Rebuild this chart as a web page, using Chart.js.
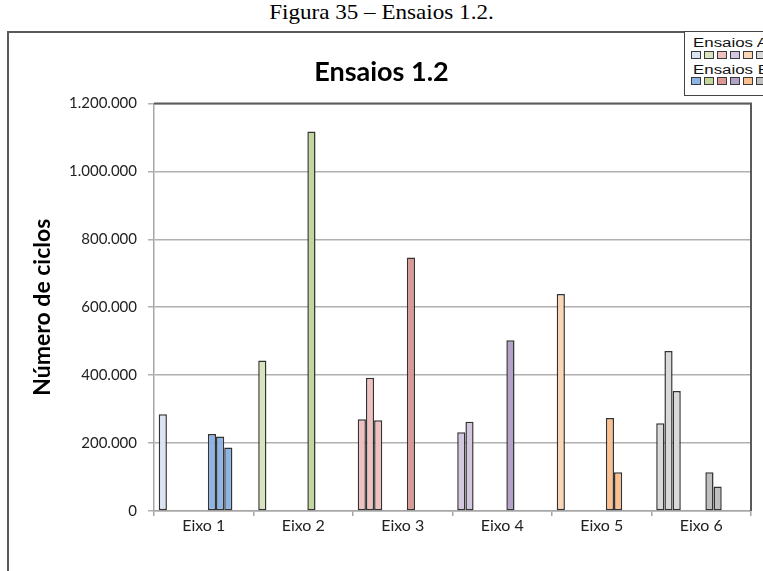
<!DOCTYPE html>
<html>
<head>
<meta charset="utf-8">
<title>Ensaios 1.2</title>
<script src="https://cdn.jsdelivr.net/npm/chart.js@4.4.1/dist/chart.umd.min.js"></script>
<style>
  html, body { margin: 0; padding: 0; background: #fff; overflow: hidden; }
  body { width: 763px; height: 571px; position: relative; }
  #legenda-figura {
    position: absolute; left: 0; top: 0; width: 763px; text-align: center;
    font-family: "Liberation Serif", "Times New Roman", serif; font-size: 21px; color: #000;
    line-height: 24px; transform: scaleX(1.1); transform-origin: 382px 0;
  }
  #moldura {
    position: absolute; left: 7px; top: 31px; width: 900px; height: 700px;
    border: 2px solid #5a5a5a; background: #fff;
  }
  #grafico { position: absolute; left: 0; top: 0; }
  #legenda {
    position: absolute; left: 684px; top: 31px; width: 120px; height: 63px;
    border: 1.5px solid #444; border-right: none; background: #fff;
    font-family: "Liberation Sans", Arial, sans-serif; font-size: 12.5px; color: #111;
  }
  #legenda .rotulo { position: absolute; left: 8px; transform: scaleX(1.35); transform-origin: left; line-height: 12px; }
  #legenda .quadros { position: absolute; left: 6px; display: flex; }
  #legenda .quadros span {
    display: block; width: 8px; height: 6px; border: 1px solid #3a3a3a; margin-right: 3px;
  }
</style>
</head>
<body>
<div id="legenda-figura">Figura 35 – Ensaios 1.2.</div>
<div id="moldura"></div>
<canvas id="grafico" width="763" height="571"></canvas>
<div id="legenda">
  <div class="rotulo" style="top:5px">Ensaios A</div>
  <div class="quadros" id="quadrosA" style="top:19px"></div>
  <div class="rotulo" style="top:32px">Ensaios B</div>
  <div class="quadros" id="quadrosB" style="top:45px"></div>
</div>
<script>
  // categorias (um eixo por grupo)
  const eixos = ['Eixo 1', 'Eixo 2', 'Eixo 3', 'Eixo 4', 'Eixo 5', 'Eixo 6'];

  // Ensaios A - ciclos por eixo
  const ensaiosA1 = [285000, 443000, 270000, 232000, 639000, 258000];
  const ensaiosA2 = [null, null, 392000, 263000, null, 471000];
  const ensaiosA3 = [null, null, 267000, null, null, 353000];

  // Ensaios B - ciclos por eixo
  const ensaiosB1 = [227000, 1117000, 746000, 503000, 274000, 114000];
  const ensaiosB2 = [219000, null, null, null, 114000, 72000];
  const ensaiosB3 = [187000, null, null, null, null, null];

  const yMax = 1200000;
  const yPasso = 200000;

  // cor de cada eixo: clara para A, escura para B
  const coresA = ['#dbe5f1', '#d7e4bd', '#efc0c0', '#d2c7de', '#fcd5b5', '#d9d9d9'];
  const coresB = ['#8eb4e3', '#c3d69b', '#dd9896', '#b3a2c7', '#fac090', '#bfbfbf'];

  function preencheQuadros(id, cores) {
    const el = document.getElementById(id);
    cores.forEach(function(c) {
      const q = document.createElement('span');
      q.style.background = c;
      el.appendChild(q);
    });
  }
  preencheQuadros('quadrosA', coresA);
  preencheQuadros('quadrosB', coresB);

  const vazio = eixos.map(function() { return null; });

  function serie(nome, dados, cores) {
    return {
      label: nome,
      data: dados,
      backgroundColor: cores,
      borderColor: '#333',
      borderWidth: 1.5,
      borderSkipped: false
    };
  }

  // posicoes vazias entre o grupo A e o grupo B
  const datasets = [
    serie('A1', ensaiosA1, coresA),
    serie('A2', ensaiosA2, coresA),
    serie('A3', ensaiosA3, coresA),
    serie('', vazio, coresA),
    serie('', vazio, coresA),
    serie('', vazio, coresA),
    serie('B1', ensaiosB1, coresB),
    serie('B2', ensaiosB2, coresB),
    serie('B3', ensaiosB3, coresB),
    serie('', vazio, coresB),
    serie('', vazio, coresB)
  ];

  function milhar(v) {
    return String(v).replace(/\B(?=(\d{3})+(?!\d))/g, '.');
  }

  // borda escura em cima e a direita da area de plotagem
  const bordaArea = {
    id: 'bordaArea',
    beforeDatasetsDraw: function(chart) {
      const a = chart.chartArea;
      const ctx = chart.ctx;
      ctx.save();
      ctx.strokeStyle = '#5a5a5a';
      ctx.lineWidth = 2;
      ctx.beginPath();
      ctx.moveTo(a.left, a.top);
      ctx.lineTo(a.right, a.top);
      ctx.lineTo(a.right, a.bottom);
      ctx.stroke();
      ctx.restore();
    }
  };

  const ctx = document.getElementById('grafico').getContext('2d');
  new Chart(ctx, {
    type: 'bar',
    data: { labels: eixos, datasets: datasets },
    plugins: [bordaArea],
    options: {
      responsive: false,
      animation: false,
      layout: { padding: { left: 12, right: 12, top: 38, bottom: 30 } },
      datasets: { bar: { categoryPercentage: 0.905, barPercentage: 1.0 } },
      plugins: {
        legend: { display: false },
        tooltip: { enabled: false },
        title: {
          display: true,
          text: 'Ensaios 1.2',
          color: '#000',
          font: { family: 'Lato', size: 27, weight: 'bold' },
          padding: { top: 18, bottom: 15 }
        }
      },
      scales: {
        x: {
          afterFit: function(scale) { scale.height = 30; },
          grid: { drawOnChartArea: false, color: '#a6a6a6', lineWidth: 1.5, tickLength: 5, offset: true },
          border: { color: '#a6a6a6', width: 1.5 },
          ticks: { color: '#222', font: { family: 'Lato', size: 16 }, padding: 0 }
        },
        y: {
          min: 0,
          max: yMax,
          afterFit: function(scale) { scale.width = 142; },
          grid: { color: '#b0b0b0', lineWidth: 1.5, tickLength: 6 },
          border: { color: '#a6a6a6', width: 1.5 },
          ticks: {
            stepSize: yPasso,
            padding: 11,
            color: '#222',
            font: { family: 'Lato', size: 15 },
            callback: function(v) { return milhar(v); }
          },
          title: {
            display: true,
            text: 'Número de ciclos',
            color: '#000',
            font: { family: 'Lato', size: 23, weight: 'bold' },
            padding: { top: 17 }
          }
        }
      }
    }
  });
</script>
</body>
</html>
